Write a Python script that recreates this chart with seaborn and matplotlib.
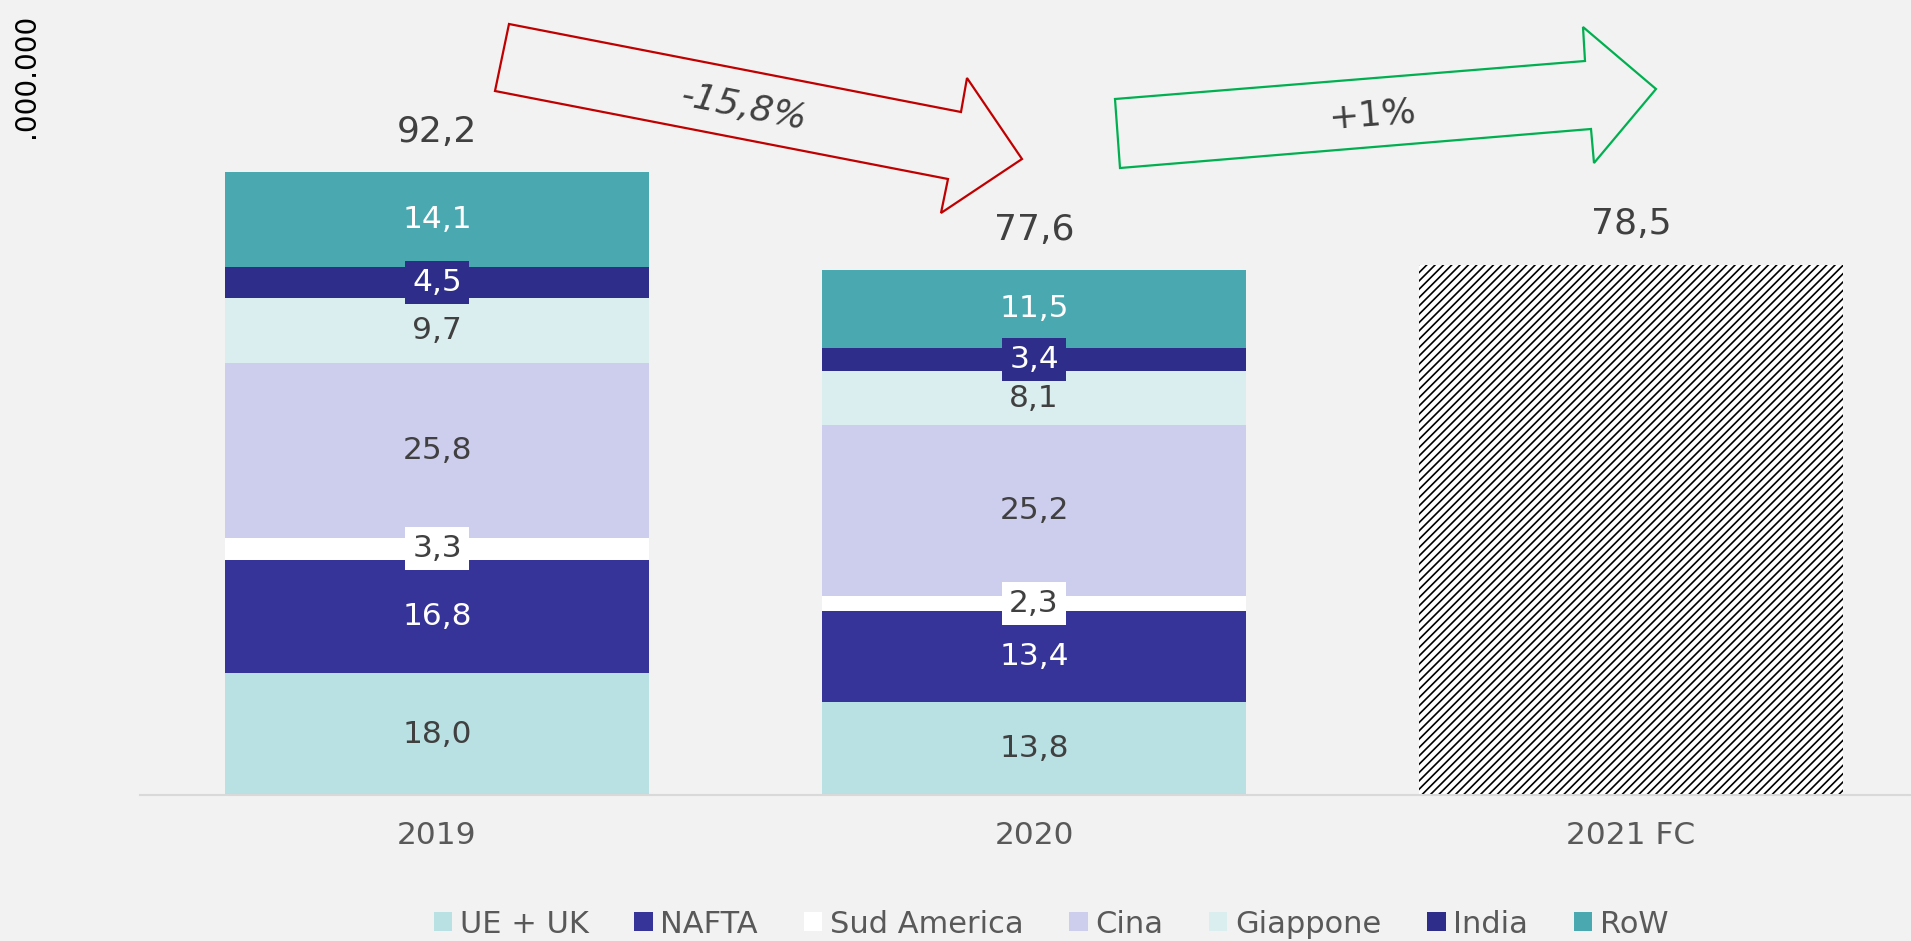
import matplotlib
matplotlib.use("Agg")
import matplotlib.pyplot as plt
import seaborn as sns
import numpy as np
import pandas as pd
from matplotlib.patches import Patch, Polygon

# data (units: .000.000)
years = ["2019", "2020", "2021 FC"]
regions = ["UE + UK", "NAFTA", "Sud America", "Cina", "Giappone", "India", "RoW"]
colors = ["#b9e0e3", "#363498", "#ffffff", "#cdcdee", "#daeef0", "#2e2e8a", "#49a8b0"]
label_colors = ["#404040", "white", "#404040", "#404040", "#404040", "white", "white"]
v2019 = [18.0, 16.8, 3.3, 25.8, 9.7, 4.5, 14.1]
v2020 = [13.8, 13.4, 2.3, 25.2, 8.1, 3.4, 11.5]
totals = [92.2, 77.6, 78.5]
changes = ["-15,8%", "+1%"]

W, H = 1911, 941
BG = "#f2f2f2"

sns.set_theme(style="white")
plt.rcParams["font.family"] = ["DejaVu Sans"]
plt.rcParams["hatch.linewidth"] = 1.2


def fmt(v):
    return f"{v:.1f}".replace(".", ",")


df = pd.DataFrame({
    "year": np.repeat(years[:2], len(regions)),
    "region": regions * 2,
    "value": v2019 + v2020,
})
df["top"] = df.groupby("year")["value"].cumsum()
df["mid"] = df["top"] - df["value"] / 2

fig = plt.figure(figsize=(W / 100, H / 100), dpi=100, facecolor=BG)
ax = fig.add_axes([140 / W, 146 / H, 1 - 140 / W, 795 / H])
ax.set_facecolor(BG)

# stacked bars: draw cumulative heights from the top layer down
for reg, col in reversed(list(zip(regions, colors))):
    sub = df[df.region == reg]
    sns.barplot(data=sub, x="year", y="top", order=years, color=col,
                saturation=1, width=0.71, linewidth=0, ax=ax)

# forecast bar, hatched
sns.barplot(x=[years[2]], y=[totals[2]], order=years, color="white",
            saturation=1, width=0.71, linewidth=0, edgecolor="black",
            hatch="////", ax=ax)

# segment labels
for _, r in df.iterrows():
    i = years.index(r.year)
    k = regions.index(r.region)
    bbox = None
    if r.region in ("Sud America", "India"):
        bbox = dict(boxstyle="square,pad=0.22", facecolor=colors[k], edgecolor="none")
    ax.text(i, r.mid, fmt(r.value), ha="center", va="center", fontsize=22.5,
            color=label_colors[k], bbox=bbox)

# totals
for i, t in enumerate(totals):
    ax.annotate(fmt(t), (i, t), xytext=(0, 29), textcoords="offset points",
                ha="center", va="center", fontsize=26, color="#404040")

ax.set_xlim(-0.4975, 2.469)
ax.set_ylim(0, 117.65)
ax.set_yticks([])
ax.set_xlabel("")
ax.set_ylabel("")
sns.despine(ax=ax, left=True)
ax.spines["bottom"].set_color("#d9d9d9")
ax.spines["bottom"].set_linewidth(1.5)
ax.tick_params(axis="x", length=0, pad=19, labelsize=22.5, labelcolor="#595959")

fig.text(26 / W, 1 - 76 / H, ".000.000", rotation=90, ha="center", va="center",
         fontsize=20, color="black")


def arrow(pts, color):
    poly = Polygon([(x / W, 1 - y / H) for x, y in pts], closed=True, fill=False,
                   edgecolor=color, linewidth=1.6, transform=fig.transFigure)
    fig.add_artist(poly)


arrow([(509, 24), (961, 112), (967, 78), (1022, 159), (941, 213), (948, 179), (495, 91)], "#c00000")
arrow([(1115, 99), (1585, 61), (1583, 27), (1656, 89), (1594, 163), (1591, 129), (1120, 168)], "#00b050")
fig.text(744 / W, 1 - 107 / H, changes[0], rotation=-11, ha="center", va="center",
         rotation_mode="anchor", fontsize=26, style="italic", color="#404040")
fig.text(1372 / W, 1 - 115 / H, changes[1], rotation=4.6, ha="center", va="center",
         rotation_mode="anchor", fontsize=26, color="#404040")

handles = [Patch(facecolor=c, edgecolor="none") for c in colors]
fig.legend(handles, regions, loc="center", bbox_to_anchor=(0.55, 0.018), ncol=7,
           frameon=False, fontsize=22, handlelength=0.6, handleheight=0.6,
           handletextpad=0.25, columnspacing=1.5, labelcolor="#595959")

fig.savefig("out.png", dpi=100, facecolor=BG)
